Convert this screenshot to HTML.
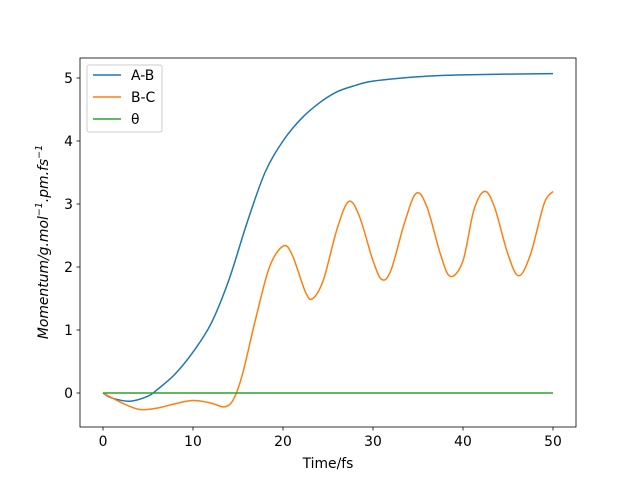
<!DOCTYPE html>
<html><head><meta charset="utf-8"><style>body{margin:0;background:#fff}svg{display:block}text{font-family:"DejaVu Sans","Liberation Sans",sans-serif;font-size:13.9px;fill:#000}</style></head><body>
<svg id="s" width="640" height="480" xmlns="http://www.w3.org/2000/svg">
<rect x="80" y="58" width="496" height="369" fill="none" stroke="#000" stroke-width="0.8"/>
<g id="ticks" stroke="#000" stroke-width="0.8"></g>
<g id="lab"></g>
<path id="ab" fill="none" stroke="#1f77b4" stroke-width="1.5"/>
<path id="bc" fill="none" stroke="#ff7f0e" stroke-width="1.5"/>
<line x1="103" y1="393" x2="553" y2="393" stroke="#2ca02c" stroke-width="1.5"/>
<text x="328" y="468" text-anchor="middle">Time/fs</text>
<text transform="translate(48,242) rotate(-90)" text-anchor="middle" style="font-style:italic">Momentum/g.mol<tspan dy="-6" style="font-size:9.5px">−1</tspan><tspan dy="6">.pm.fs</tspan><tspan dy="-6" style="font-size:9.5px">−1</tspan></text>
<rect x="87" y="65" width="75" height="67" fill="#fff" stroke="#ccc" rx="2"/>
<line x1="93" y1="75" x2="121" y2="75" stroke="#1f77b4" stroke-width="1.5"/><text x="131" y="80">A-B</text>
<line x1="93" y1="97" x2="121" y2="97" stroke="#ff7f0e" stroke-width="1.5"/><text x="131" y="102">B-C</text>
<line x1="93" y1="119" x2="121" y2="119" stroke="#2ca02c" stroke-width="1.5"/><text x="131" y="124">θ</text>
</svg>
<script>
const X=t=>103+t*9,Y=v=>393-v*63;
const tk=document.getElementById('ticks'),lb=document.getElementById('lab');let h='',l='';
for(let t=0;t<=50;t+=10){h+=`<line x1="${X(t)}" y1="427" x2="${X(t)}" y2="430.5"/>`;l+=`<text x="${X(t)}" y="446" text-anchor="middle">${t}</text>`;}
for(let v=0;v<=5;v++){h+=`<line x1="80" y1="${Y(v)}" x2="76.5" y2="${Y(v)}"/>`;l+=`<text x="73" y="${Y(v)+5}" text-anchor="end">${v}</text>`;}
tk.innerHTML=h;lb.innerHTML=l;
function cr(p){let d=`M${X(p[0][0])},${Y(p[0][1])}`;for(let i=0;i<p.length-1;i++){const a=p[Math.max(0,i-1)],b=p[i],c=p[i+1],e=p[Math.min(p.length-1,i+2)];
const bx=X(b[0]),by=Y(b[1]),cx=X(c[0]),cy=Y(c[1]);
d+=` C${bx+(cx-X(a[0]))/6},${by+(cy-Y(a[1]))/6} ${cx-(X(e[0])-bx)/6},${cy-(Y(e[1])-by)/6} ${cx},${cy}`;}return d;}
const ab=[[0,0],[1,-0.08],[3,-0.13],[5,-0.05],[6,0.05],[8,0.3],[10,0.65],[12,1.1],[14,1.8],[16,2.7],[18,3.5],[20,4.0],[22,4.35],[24,4.6],[26,4.78],[28,4.88],[30,4.95],[35,5.02],[40,5.05],[50,5.07]];
const bc=[[0,0],[2,-0.15],[4,-0.26],[6,-0.24],[8,-0.17],[10,-0.12],[12,-0.16],[13.5,-0.22],[14.5,-0.1],[15.5,0.3],[17,1.2],[18.5,2.0],[20,2.33],[21,2.2],[22.5,1.6],[23.3,1.5],[24.5,1.8],[26,2.6],[27.3,3.04],[28.5,2.8],[30,2.1],[31,1.8],[32,1.95],[33.5,2.7],[34.8,3.17],[36,2.95],[37.5,2.2],[38.6,1.85],[40,2.1],[41.2,2.9],[42.4,3.2],[43.5,2.95],[45,2.2],[46.2,1.86],[47.5,2.2],[49,3.0],[50,3.2]];
document.getElementById('ab').setAttribute('d',cr(ab));document.getElementById('bc').setAttribute('d',cr(bc));
</script>
</body></html>
